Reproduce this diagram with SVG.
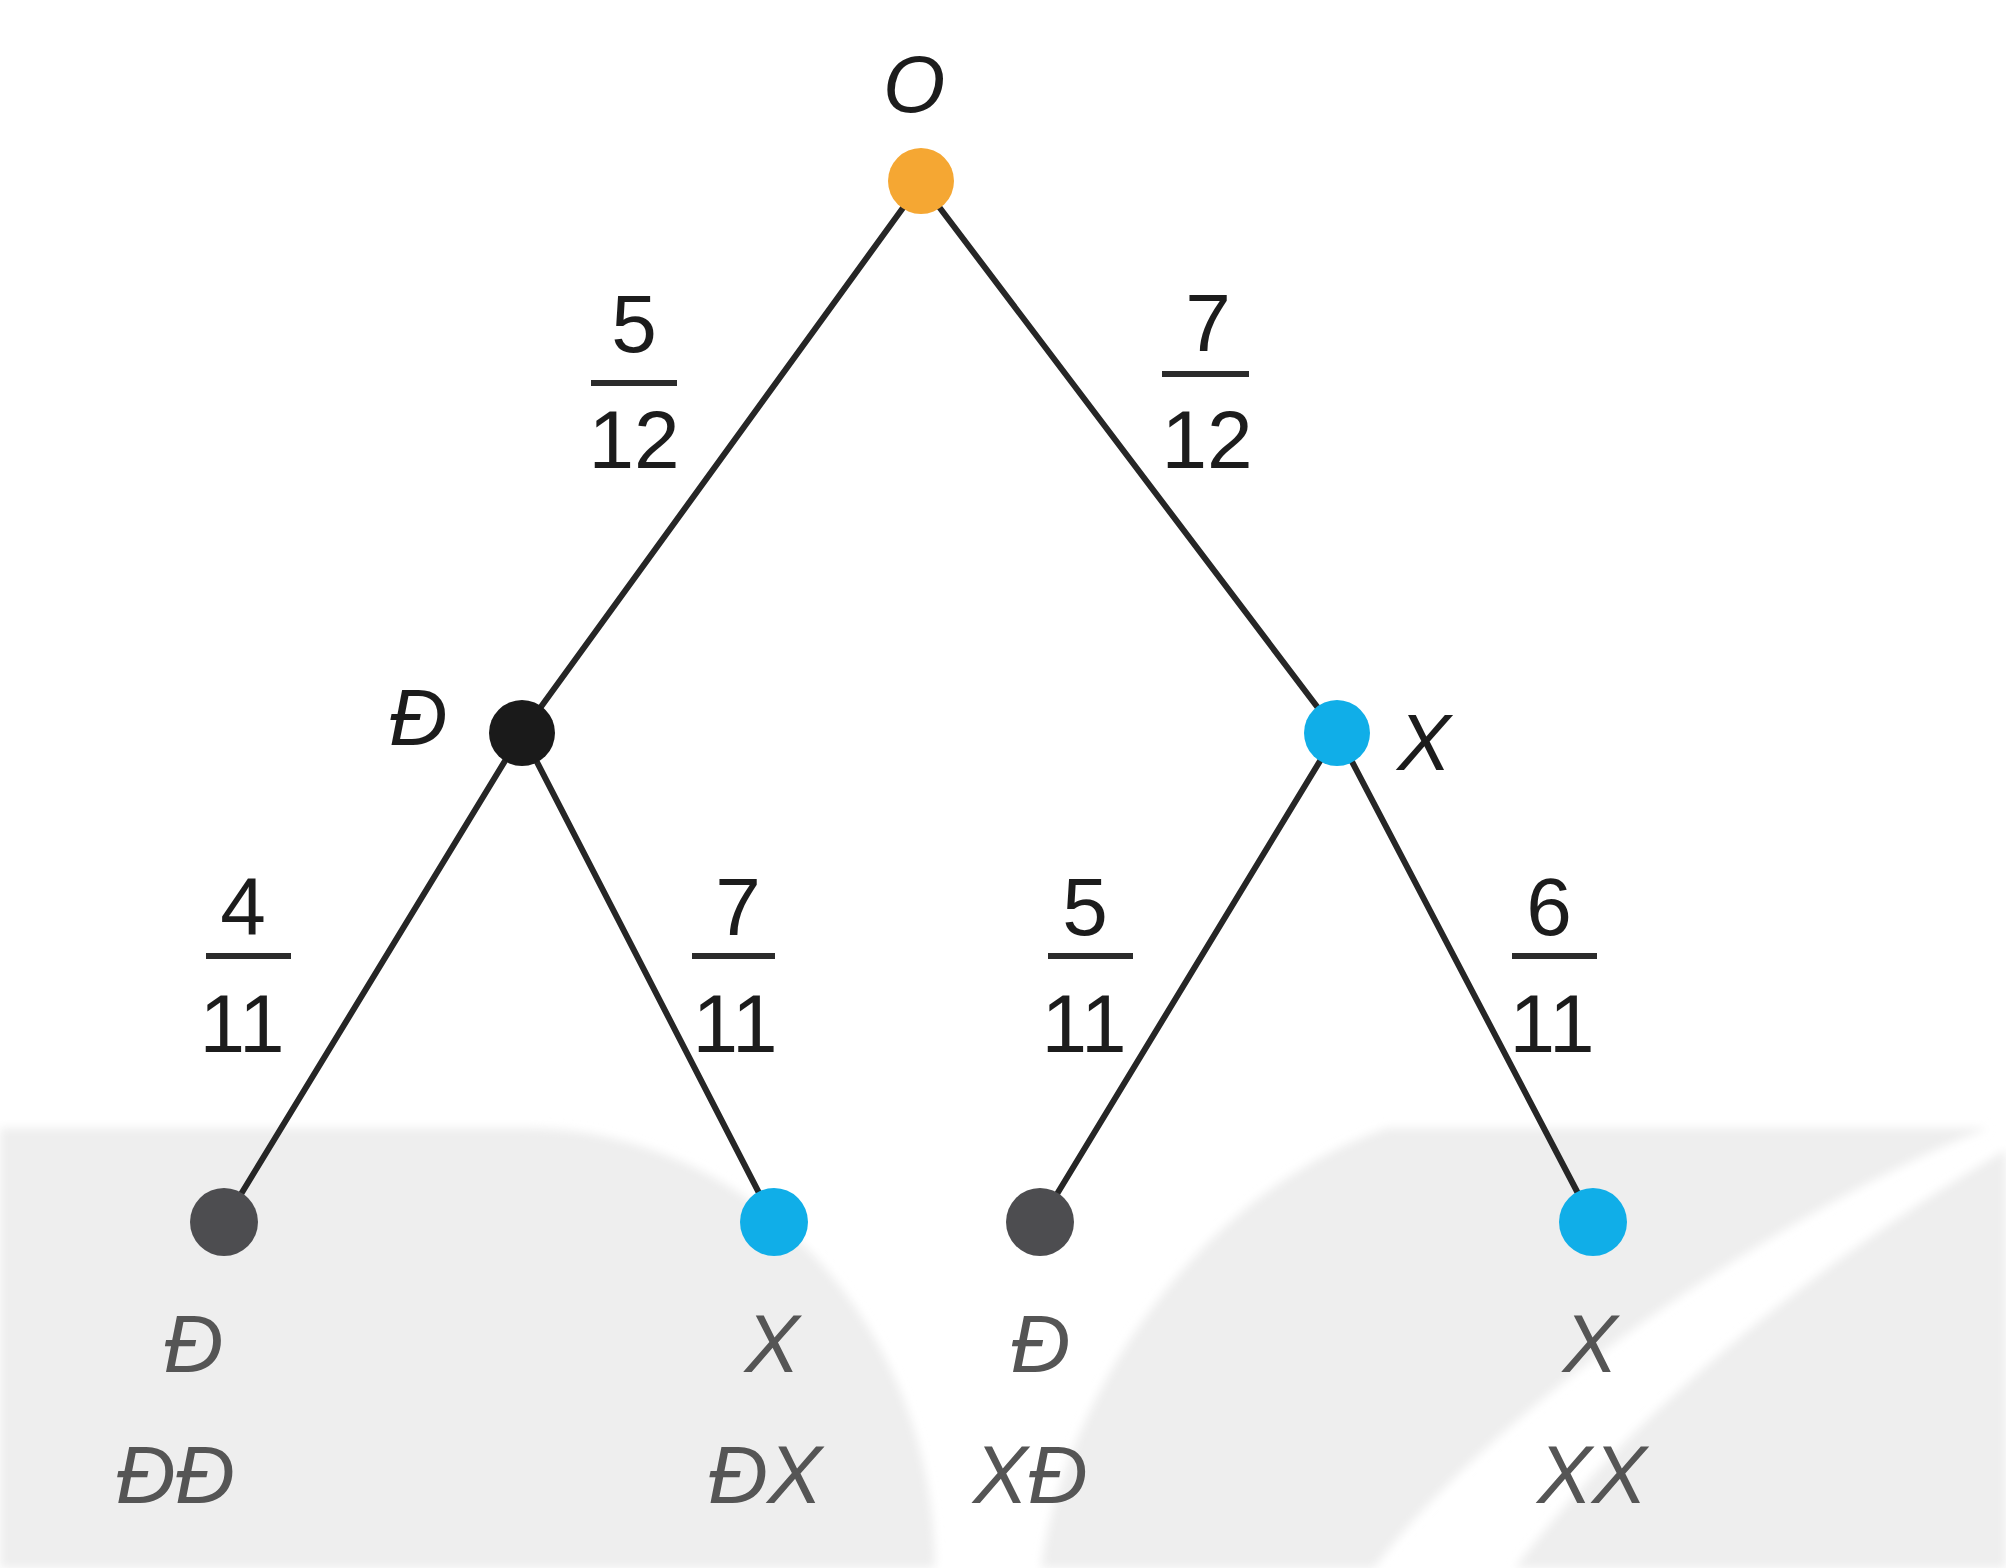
<svg xmlns="http://www.w3.org/2000/svg" width="2006" height="1568" viewBox="0 0 2006 1568">
  <defs>
    <filter id="soft" x="-5%" y="-5%" width="110%" height="110%">
      <feGaussianBlur stdDeviation="5"/>
    </filter>
  </defs>
  <style>
    .bg { fill: #eeeeee; }
    .edge { stroke: #262626; stroke-width: 6; fill: none; stroke-linecap: round; }
    .bar { stroke: #2b2b2b; stroke-width: 6; }
    .num { font-family: "Liberation Sans", Arial, sans-serif; font-size: 82px; fill: #1c1c1c; text-anchor: middle; }
    .lab { font-family: "Liberation Sans", Arial, sans-serif; font-size: 80px; font-style: italic; fill: #1c1c1c; text-anchor: middle; }
    .leaflab { font-family: "Liberation Sans", Arial, sans-serif; font-size: 82px; font-style: italic; fill: #555555; text-anchor: middle; }
    .orange { fill: #f5a733; }
    .black { fill: #1a1a1a; }
    .blue { fill: #10aee8; }
    .grey { fill: #4d4d50; }
  </style>

  <rect x="0" y="0" width="2006" height="1568" fill="#ffffff"/>

  <g id="background" filter="url(#soft)">
    <path class="bg" d="M0,1128 H525 A410,440 0 0 1 935,1568 H0 Z"/>
    <path class="bg" d="M1041,1568 C1060,1420 1180,1200 1387,1128 H1988 C1800,1200 1500,1400 1374,1568 Z"/>
    <path class="bg" d="M2006,1150 C1850,1240 1640,1400 1515,1568 H2006 Z"/>
  </g>

  <g id="connectors">
    <line class="edge" x1="921" y1="183" x2="522" y2="733"/>
    <line class="edge" x1="921" y1="183" x2="1337" y2="733"/>
    <line class="edge" x1="522" y1="733" x2="224" y2="1222"/>
    <line class="edge" x1="522" y1="733" x2="774" y2="1222"/>
    <line class="edge" x1="1337" y1="733" x2="1040" y2="1222"/>
    <line class="edge" x1="1337" y1="733" x2="1593" y2="1222"/>
  </g>

  <g id="edge-labels">
    <g id="p-O-D">
      <text class="num" x="634" y="352">5</text>
      <line class="bar" x1="591" y1="383" x2="677" y2="383"/>
      <text class="num" x="634" y="468">12</text>
    </g>
    <g id="p-O-X">
      <text class="num" x="1208" y="351">7</text>
      <line class="bar" x1="1162" y1="374" x2="1249" y2="374"/>
      <text class="num" x="1207" y="468">12</text>
    </g>
    <g id="p-D-D">
      <text class="num" x="243" y="935">4</text>
      <line class="bar" x1="206" y1="956" x2="291" y2="956"/>
      <text class="num" x="242" y="1052">11</text>
    </g>
    <g id="p-D-X">
      <text class="num" x="738" y="935">7</text>
      <line class="bar" x1="692" y1="956" x2="775" y2="956"/>
      <text class="num" x="735" y="1052">11</text>
    </g>
    <g id="p-X-D">
      <text class="num" x="1085" y="935">5</text>
      <line class="bar" x1="1048" y1="956" x2="1133" y2="956"/>
      <text class="num" x="1084" y="1052">11</text>
    </g>
    <g id="p-X-X">
      <text class="num" x="1549" y="935">6</text>
      <line class="bar" x1="1512" y1="956" x2="1597" y2="956"/>
      <text class="num" x="1552" y="1052">11</text>
    </g>
  </g>

  <g id="node-O">
    <circle class="orange" cx="921" cy="181" r="33"/>
    <text class="lab" x="914" y="112">O</text>
  </g>
  <g id="node-D">
    <circle class="black" cx="522" cy="733" r="33"/>
    <text class="lab" x="418" y="745">Đ</text>
  </g>
  <g id="node-X">
    <circle class="blue" cx="1337" cy="733" r="33"/>
    <text class="lab" x="1424" y="770">X</text>
  </g>
  <g id="leaf-DD">
    <circle class="grey" cx="224" cy="1222" r="34"/>
    <text class="leaflab" x="193" y="1372">Đ</text>
    <text class="leaflab" x="175" y="1503">ĐĐ</text>
  </g>
  <g id="leaf-DX">
    <circle class="blue" cx="774" cy="1222" r="34"/>
    <text class="leaflab" x="772" y="1372">X</text>
    <text class="leaflab" x="765" y="1503">ĐX</text>
  </g>
  <g id="leaf-XD">
    <circle class="grey" cx="1040" cy="1222" r="34"/>
    <text class="leaflab" x="1040" y="1372">Đ</text>
    <text class="leaflab" x="1030" y="1503">XĐ</text>
  </g>
  <g id="leaf-XX">
    <circle class="blue" cx="1593" cy="1222" r="34"/>
    <text class="leaflab" x="1590" y="1372">X</text>
    <text class="leaflab" x="1592" y="1503">XX</text>
  </g>
</svg>
